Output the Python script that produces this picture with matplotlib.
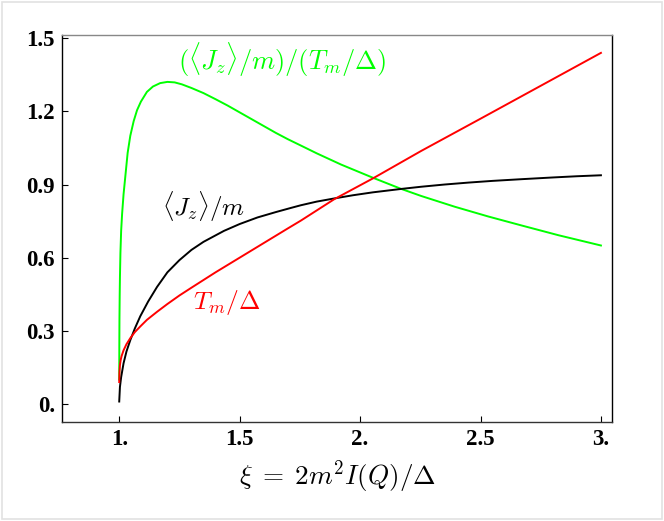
import matplotlib
matplotlib.use('Agg')
import matplotlib.pyplot as plt
from matplotlib.patches import Rectangle

plt.rcParams['mathtext.fontset'] = 'cm'

# values
xi_ratio = [1.0, 1.0005, 1.001, 1.002, 1.003, 1.005, 1.008, 1.012, 1.018, 1.025,
            1.035, 1.046, 1.06, 1.074, 1.09, 1.115, 1.14, 1.17, 1.2, 1.23,
            1.26, 1.3, 1.35, 1.4, 1.45, 1.5, 1.55, 1.6, 1.65, 1.7,
            1.754, 1.82, 1.921, 2.053, 2.171, 2.254, 2.393, 2.532, 2.671, 2.824,
            3.0]
ratio = [0.10, 0.25, 0.35, 0.45, 0.52, 0.62, 0.71, 0.78, 0.86, 0.93,
         1.03, 1.10, 1.16, 1.205, 1.24, 1.28, 1.302, 1.316, 1.321, 1.319,
         1.311, 1.296, 1.275, 1.25, 1.224, 1.196, 1.168, 1.14, 1.112, 1.086,
         1.06, 1.028, 0.982, 0.928, 0.882, 0.853, 0.809, 0.769, 0.732, 0.692,
         0.650]

xi_jz = [1.0, 1.003, 1.008, 1.018, 1.03, 1.046, 1.065, 1.0875, 1.12, 1.157,
         1.2, 1.25, 1.3, 1.35, 1.435, 1.5, 1.574, 1.65, 1.7125, 1.754,
         1.82, 1.893, 1.97, 2.053, 2.171, 2.254, 2.35, 2.45, 2.55, 2.671,
         2.8, 2.9, 3.0]
jz = [0.01, 0.07, 0.11, 0.167, 0.215, 0.262, 0.31, 0.36, 0.42, 0.48,
      0.54, 0.59, 0.632, 0.665, 0.71, 0.738, 0.765, 0.787, 0.804, 0.815,
      0.83, 0.843, 0.856, 0.868, 0.882, 0.891, 0.90, 0.908, 0.915, 0.922,
      0.929, 0.934, 0.938]

xi_tm = [1.0, 1.001, 1.003, 1.006, 1.01, 1.018, 1.03, 1.046, 1.065, 1.0875,
         1.115, 1.157, 1.2, 1.25, 1.3, 1.4, 1.5, 1.6, 1.7, 1.754,
         1.893, 2.053, 2.254, 2.5, 2.75, 3.0]
tm = [0.09, 0.13, 0.16, 0.18, 0.197, 0.22, 0.245, 0.27, 0.295, 0.318,
      0.345, 0.378, 0.41, 0.445, 0.477, 0.54, 0.60, 0.66, 0.72, 0.752,
      0.84, 0.925, 1.038, 1.17, 1.305, 1.44]

x_ticks = [1.0, 1.5, 2.0, 2.5, 3.0]
x_ticklabels = ["1.", "1.5", "2.", "2.5", "3."]
y_ticks = [0.0, 0.3, 0.6, 0.9, 1.2, 1.5]
y_ticklabels = ["0.", "0.3", "0.6", "0.9", "1.2", "1.5"]

fig = plt.figure(figsize=(6.64, 5.21), dpi=100)
fig.patches.append(Rectangle((0.003, 0.003), 0.994, 0.994, transform=fig.transFigure,
                             fill=False, edgecolor='#e2e2e2', linewidth=1.2))
ax = fig.add_axes([0.0934, 0.190, 0.8283, 0.7422])

ax.plot(xi_ratio, ratio, color='#00ff00', lw=1.4, zorder=2)
ax.plot(xi_jz, jz, color='black', lw=1.4, zorder=3)
ax.plot(xi_tm, tm, color='#ff0000', lw=1.4, zorder=4)

ax.set_xlim(0.7625, 3.046)
ax.set_ylim(-0.074, 1.512)

ax.set_xticks(x_ticks)
ax.set_xticklabels(x_ticklabels)
ax.set_yticks(y_ticks)
ax.set_yticklabels(y_ticklabels)
for lab in ax.get_xticklabels() + ax.get_yticklabels():
    lab.set_fontfamily('Liberation Serif')
    lab.set_fontweight('bold')
    lab.set_fontsize(16.5)
ax.tick_params(direction='in', length=4, width=0.8, top=False, right=False, pad=5)

ax.spines['top'].set_color('#888888')
ax.spines['bottom'].set_color('#333333')
ax.spines['left'].set_color('black')
ax.spines['right'].set_color('black')
for s in ax.spines.values():
    s.set_linewidth(1.0)

ax.text(1.675, 1.41, r'$(\langle J_z\rangle/m)/(T_m/\Delta)$', color='#00ff00',
        fontsize=19, ha='center', va='center')
ax.text(1.35, 0.81, r'$\langle J_z\rangle/m$', color='black',
        fontsize=18, ha='center', va='center')
ax.text(1.445, 0.415, r'$T_m/\Delta$', color='#ff0000',
        fontsize=18.5, ha='center', va='center')

ax.set_xlabel(r'$\xi\;=\;2m^2 I(Q)/\Delta$', fontsize=19.5, labelpad=6)

fig.savefig('out.png', dpi=100)
